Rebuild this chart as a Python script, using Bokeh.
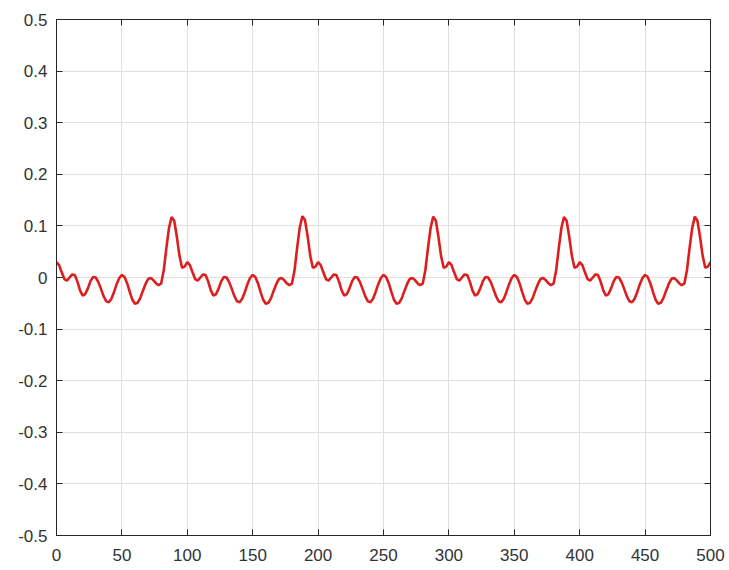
from bokeh.plotting import figure
from bokeh.models import FixedTicker, LinearAxis, Range1d, ColumnDataSource
from bokeh.embed import file_html
from bokeh.resources import INLINE

# sample positions (every 2 units, 0..500)
x_vals = list(range(0, 501, 2))

# signal values (one row per 100-unit stretch)
y_vals = [
    0.030, 0.024, 0.010, -0.003, -0.006, 0.000, 0.006, 0.005, -0.008, -0.025,
    -0.035, -0.032, -0.021, -0.007, 0.001, 0.000, -0.009, -0.022, -0.036, -0.046,
    -0.048, -0.041, -0.028, -0.013, -0.001, 0.005, 0.001, -0.011, -0.028, -0.043,
    -0.051, -0.049, -0.040, -0.026, -0.013, -0.003, -0.001, -0.005, -0.011, -0.015,
    -0.012, 0.014, 0.057, 0.096, 0.117, 0.110, 0.079, 0.042, 0.019, 0.021,

    0.030, 0.024, 0.010, -0.003, -0.006, 0.000, 0.006, 0.005, -0.008, -0.025,
    -0.035, -0.032, -0.021, -0.007, 0.001, 0.000, -0.009, -0.022, -0.036, -0.046,
    -0.048, -0.041, -0.028, -0.013, -0.001, 0.005, 0.001, -0.011, -0.028, -0.043,
    -0.051, -0.049, -0.040, -0.026, -0.013, -0.003, -0.001, -0.005, -0.011, -0.015,
    -0.012, 0.014, 0.058, 0.097, 0.119, 0.111, 0.080, 0.042, 0.019, 0.021,

    0.030, 0.024, 0.010, -0.003, -0.006, 0.000, 0.006, 0.005, -0.008, -0.025,
    -0.035, -0.032, -0.021, -0.007, 0.001, 0.000, -0.009, -0.022, -0.036, -0.046,
    -0.048, -0.041, -0.028, -0.013, -0.001, 0.005, 0.001, -0.011, -0.028, -0.043,
    -0.051, -0.049, -0.040, -0.026, -0.013, -0.003, -0.001, -0.005, -0.011, -0.015,
    -0.012, 0.014, 0.057, 0.096, 0.118, 0.110, 0.079, 0.042, 0.019, 0.021,

    0.030, 0.024, 0.010, -0.003, -0.006, 0.000, 0.006, 0.005, -0.008, -0.025,
    -0.035, -0.032, -0.021, -0.007, 0.001, 0.000, -0.009, -0.022, -0.036, -0.046,
    -0.048, -0.041, -0.028, -0.013, -0.001, 0.005, 0.001, -0.011, -0.028, -0.043,
    -0.051, -0.049, -0.040, -0.026, -0.013, -0.003, -0.001, -0.005, -0.011, -0.015,
    -0.012, 0.014, 0.057, 0.096, 0.117, 0.110, 0.079, 0.042, 0.019, 0.021,

    0.030, 0.024, 0.010, -0.003, -0.006, 0.000, 0.006, 0.005, -0.008, -0.025,
    -0.035, -0.032, -0.021, -0.007, 0.001, 0.000, -0.009, -0.022, -0.036, -0.046,
    -0.048, -0.041, -0.028, -0.013, -0.001, 0.005, 0.001, -0.011, -0.028, -0.043,
    -0.051, -0.049, -0.040, -0.026, -0.013, -0.003, -0.001, -0.005, -0.011, -0.015,
    -0.012, 0.014, 0.057, 0.096, 0.118, 0.110, 0.079, 0.042, 0.019, 0.021,

    0.030,
]

x_ticks = [0, 50, 100, 150, 200, 250, 300, 350, 400, 450, 500]
x_tick_labels = ["0", "50", "100", "150", "200", "250", "300", "350", "400", "450", "500"]
y_ticks = [-0.5, -0.4, -0.3, -0.2, -0.1, 0, 0.1, 0.2, 0.3, 0.4, 0.5]
y_tick_labels = ["-0.5", "-0.4", "-0.3", "-0.2", "-0.1", "0", "0.1", "0.2", "0.3", "0.4", "0.5"]

FONT = "Liberation Sans"
AX_COLOR = "#262626"
LABEL_COLOR = "#333333"
GRID_COLOR = "#dfdfdf"

p = figure(width=729, height=570,
           x_range=Range1d(0, 500), y_range=Range1d(-0.5, 0.5),
           output_backend="svg", toolbar_location=None,
           min_border_left=56, min_border_top=19,
           min_border_right=19, min_border_bottom=35)

p.background_fill_color = "white"
p.border_fill_color = "white"
p.outline_line_color = AX_COLOR
p.outline_line_width = 1

src = ColumnDataSource(dict(x=x_vals, y=y_vals))
p.line("x", "y", source=src, line_color="#dc1e1e", line_width=2.6)

for ax, ticks, labels, standoff in ((p.xaxis[0], x_ticks, x_tick_labels, 13),
                                     (p.yaxis[0], y_ticks, y_tick_labels, 9)):
    ax.ticker = FixedTicker(ticks=ticks)
    ax.major_label_overrides = {t: l for t, l in zip(ticks, labels)}
    ax.major_label_text_font = FONT
    ax.major_label_text_font_size = "17px"
    ax.major_label_text_color = LABEL_COLOR
    ax.axis_line_color = AX_COLOR
    ax.major_tick_line_color = AX_COLOR
    ax.major_tick_in = 6
    ax.major_tick_out = 0
    ax.minor_tick_line_color = None
    ax.major_label_standoff = standoff

p.xgrid.ticker = FixedTicker(ticks=x_ticks)
p.ygrid.ticker = FixedTicker(ticks=y_ticks)
p.xgrid.grid_line_color = GRID_COLOR
p.ygrid.grid_line_color = GRID_COLOR

# mirrored ticks on top and right (box on), no labels drawn
top = LinearAxis(ticker=FixedTicker(ticks=x_ticks), major_label_text_color=None,
                 major_label_text_font_size="1px",
                 major_label_standoff=0, axis_line_color=AX_COLOR,
                 major_tick_line_color=AX_COLOR, major_tick_in=6, major_tick_out=0,
                 minor_tick_line_color=None)
right = LinearAxis(ticker=FixedTicker(ticks=y_ticks), major_label_text_color=None,
                   major_label_text_font_size="1px",
                   major_label_standoff=0, axis_line_color=AX_COLOR,
                   major_tick_line_color=AX_COLOR, major_tick_in=6, major_tick_out=0,
                   minor_tick_line_color=None)
p.add_layout(top, "above")
p.add_layout(right, "right")

open("out.html", "w").write(file_html(p, INLINE))
